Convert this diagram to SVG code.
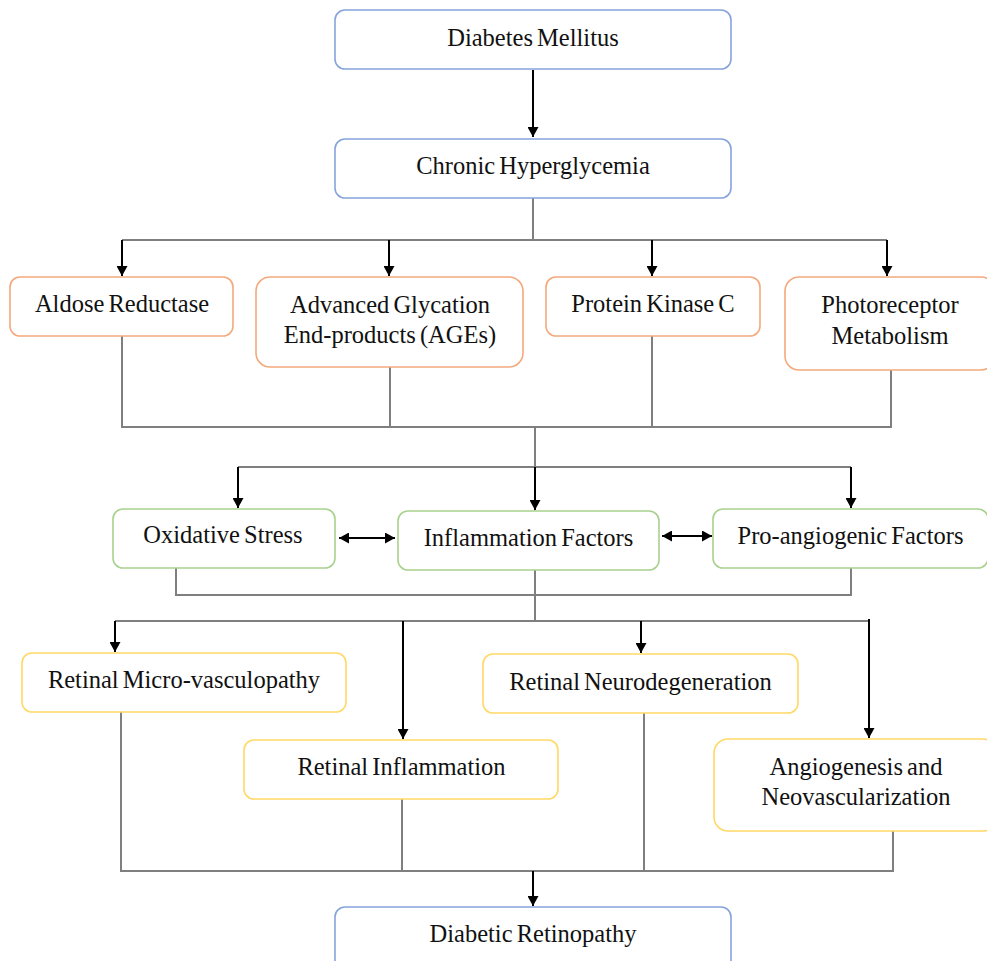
<svg xmlns="http://www.w3.org/2000/svg" width="987" height="961" viewBox="0 0 987 961" font-family="Liberation Serif, Times New Roman, DejaVu Serif, serif">
<defs>
<marker id="ah" markerUnits="userSpaceOnUse" markerWidth="11" markerHeight="11" refX="10" refY="5.5" orient="auto-start-reverse">
<path d="M0,0 L10,5.5 L0,11 z" fill="#000"/>
</marker>
</defs>
<style>
text{font-size:24.5px;fill:#111;text-anchor:middle;word-spacing:-2px}
.box{fill:#fff;stroke-width:1.6}
.blue{stroke:#86a4dc}
.orange{stroke:#f4a97c}
.green{stroke:#a9d18e}
.yellow{stroke:#ffd966}
.g{fill:none;stroke:#7f7f7f;stroke-width:2}
.a{fill:none;stroke:#000;stroke-width:2;marker-end:url(#ah)}
.d{fill:none;stroke:#000;stroke-width:2;marker-end:url(#ah);marker-start:url(#ah)}
</style>
<rect width="987" height="961" fill="#fff"/>
<g id="connectors">
<path class="g" d="M533,198 V240 M122,240 H887"/>
<path class="g" d="M122,336 V427 H891 V370 M390,367 V427 M652,336 V427"/>
<path class="g" d="M535,427 V467 M238,467 H851"/>
<path class="g" d="M176,568 V595 H851 V568 M535,570 V621 M115,621 H869"/>
<path class="g" d="M121,712 V871 H893 V831 M402,799 V871 M644,713 V871"/>
<line class="a" x1="533" y1="70" x2="533" y2="137"/>
<line class="a" x1="122" y1="240" x2="122" y2="276"/>
<line class="a" x1="389" y1="240" x2="389" y2="276"/>
<line class="a" x1="652" y1="240" x2="652" y2="276"/>
<line class="a" x1="887" y1="240" x2="887" y2="276"/>
<line class="a" x1="238" y1="467" x2="238" y2="508"/>
<line class="a" x1="535" y1="467" x2="535" y2="510"/>
<line class="a" x1="851" y1="467" x2="851" y2="508"/>
<line class="d" x1="339" y1="538" x2="395" y2="538"/>
<line class="d" x1="662" y1="536" x2="712" y2="536"/>
<line class="a" x1="115" y1="621" x2="115" y2="652"/>
<line class="a" x1="403" y1="621" x2="403" y2="739"/>
<line class="a" x1="641" y1="621" x2="641" y2="653"/>
<line class="a" x1="869" y1="619" x2="869" y2="738"/>
<line class="a" x1="533" y1="871" x2="533" y2="906"/>
</g>
<g id="diabetes-mellitus"><rect class="box blue" x="335" y="10" width="396" height="59" rx="10"/><text x="533" y="45.5">Diabetes Mellitus</text></g>
<g id="chronic-hyperglycemia"><rect class="box blue" x="335" y="139" width="396" height="59" rx="10"/><text x="533" y="174">Chronic Hyperglycemia</text></g>
<g id="aldose-reductase"><rect class="box orange" x="10" y="277" width="223" height="59" rx="10"/><text x="122" y="311.5">Aldose Reductase</text></g>
<g id="ages"><rect class="box orange" x="256" y="277" width="267" height="90" rx="14"/><text x="390" y="313">Advanced Glycation</text><text x="390" y="343">End-products (AGEs)</text></g>
<g id="protein-kinase-c"><rect class="box orange" x="546" y="277" width="214" height="59" rx="10"/><text x="653" y="311.5">Protein Kinase C</text></g>
<g id="photoreceptor-metabolism"><rect class="box orange" x="785" y="277" width="210" height="93" rx="14"/><text x="890" y="313">Photoreceptor</text><text x="890" y="344">Metabolism</text></g>
<g id="oxidative-stress"><rect class="box green" x="113" y="509" width="222" height="59" rx="10"/><text x="223" y="543">Oxidative Stress</text></g>
<g id="inflammation-factors"><rect class="box green" x="398" y="511" width="261" height="59" rx="10"/><text x="528.5" y="545.5">Inflammation Factors</text></g>
<g id="pro-angiogenic-factors"><rect class="box green" x="713" y="509" width="275" height="59" rx="10"/><text x="850.5" y="544">Pro-angiogenic Factors</text></g>
<g id="retinal-micro-vasculopathy"><rect class="box yellow" x="22" y="653" width="324" height="59" rx="10"/><text x="184" y="688">Retinal Micro-vasculopathy</text></g>
<g id="retinal-inflammation"><rect class="box yellow" x="244" y="740" width="314" height="59" rx="10"/><text x="401.5" y="775">Retinal Inflammation</text></g>
<g id="retinal-neurodegeneration"><rect class="box yellow" x="483" y="654" width="315" height="59" rx="10"/><text x="640.5" y="690">Retinal Neurodegeneration</text></g>
<g id="angiogenesis"><rect class="box yellow" x="714" y="739" width="283" height="92" rx="14"/><text x="856" y="775">Angiogenesis and</text><text x="856" y="805">Neovascularization</text></g>
<g id="diabetic-retinopathy"><rect class="box blue" x="335" y="907" width="396" height="70" rx="10"/><text x="533" y="941.5">Diabetic Retinopathy</text></g>
</svg>
